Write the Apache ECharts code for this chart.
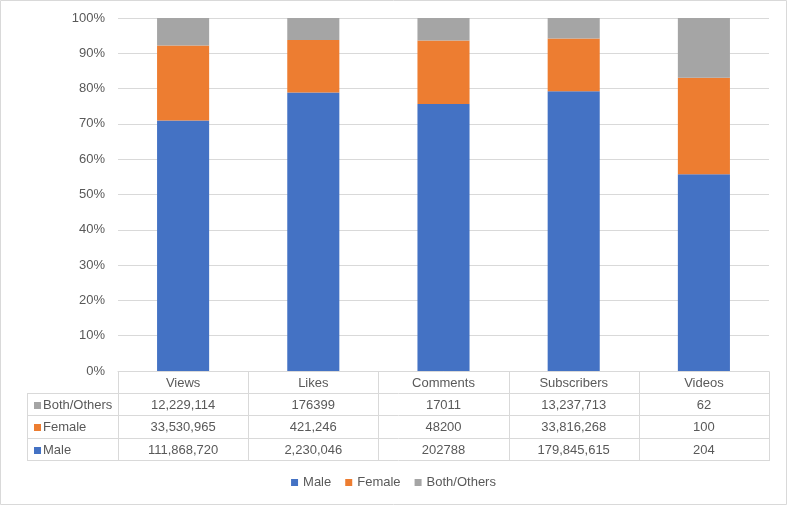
<!DOCTYPE html>
<html>
<head>
<meta charset="utf-8">
<script src="https://cdn.jsdelivr.net/npm/echarts@6/dist/echarts.min.js"></script>
<style>
html,body{margin:0;padding:0;background:#fff;}
#c{width:787px;height:505px;}
</style>
</head>
<body>
<div id="c"></div>
<script>
const categories = ['Views', 'Likes', 'Comments', 'Subscribers', 'Videos'];
const seriesNames = ['Male', 'Female', 'Both/Others'];
const maleValues = ['111,868,720', '2,230,046', '202788', '179,845,615', '204'];
const femaleValues = ['33,530,965', '421,246', '48200', '33,816,268', '100'];
const otherValues = ['12,229,114', '176399', '17011', '13,237,713', '62'];
const yTicks = [0, 10, 20, 30, 40, 50, 60, 70, 80, 90, 100];
const colors = ['#4472C4', '#ED7D31', '#A5A5A5'];

const raw = [maleValues, femaleValues, otherValues];
const num = s => Number(String(s).replace(/,/g, ''));
const totals = categories.map((_, i) => raw.reduce((a, arr) => a + num(arr[i]), 0));
const pct = raw.map(arr => arr.map((v, i) => num(v) / totals[i] * 100));

const FONT = 'Liberation Sans';
const TXT = '#595959';
const LINE = '#d9d9d9';
const GRID = {left: 118, right: 18, top: 18, bottom: 134};

const chart = echarts.init(document.getElementById('c'));
chart.setOption({
  animation: false,
  textStyle: {fontFamily: FONT},
  grid: GRID,
  legend: {
    data: seriesNames,
    bottom: 11,
    left: 'center',
    icon: 'rect',
    itemWidth: 7,
    itemHeight: 7,
    itemGap: 14,
    textStyle: {color: TXT, fontSize: 13, fontFamily: FONT}
  },
  xAxis: {
    type: 'category',
    data: categories,
    axisLine: {lineStyle: {color: LINE}},
    axisTick: {show: false},
    axisLabel: {color: TXT, fontSize: 13, margin: 6, fontFamily: FONT}
  },
  yAxis: {
    type: 'value',
    min: yTicks[0],
    max: yTicks[yTicks.length - 1],
    interval: 10,
    axisLabel: {formatter: '{value}%', color: TXT, fontSize: 13, margin: 13, fontFamily: FONT},
    splitLine: {lineStyle: {color: LINE}},
    axisLine: {show: false},
    axisTick: {show: false}
  },
  series: seriesNames.map((name, k) => ({
    name,
    type: 'bar',
    stack: 'total',
    barWidth: '40%',
    itemStyle: {color: colors[k]},
    data: pct[k]
  }))
});

// data table below the plot
const yBottom = chart.convertToPixel({yAxisIndex: 0}, 0);
const c0 = chart.convertToPixel({xAxisIndex: 0}, categories[0]);
const c1 = chart.convertToPixel({xAxisIndex: 0}, categories[1]);
const band = c1 - c0;
const xLeft = c0 - band / 2;
const xRight = xLeft + band * categories.length;
const labelLeft = 27;
const headerH = 22;
const rowH = 22.34;
const rowsTop = Math.round(yBottom) + headerH;
const order = [2, 1, 0]; // Both/Others, Female, Male
const els = [];
const line = (x1, y1, x2, y2) => els.push({type: 'line', shape: {x1, y1, x2, y2}, style: {stroke: LINE, lineWidth: 1}, silent: true});
const rowY = r => Math.round(rowsTop + rowH * r) + 0.5;
const ytop = Math.round(yBottom) + 0.5;
// vertical lines
for (let i = 0; i <= categories.length; i++) {
  const x = Math.round(xLeft + band * i) + 0.5;
  line(x, ytop, x, rowY(3));
}
line(labelLeft + 0.5, rowY(0), labelLeft + 0.5, rowY(3));
// horizontal lines
for (let r = 0; r <= 3; r++) {
  line(labelLeft, rowY(r), Math.round(xRight) + 1, rowY(r));
}
order.forEach((k, r) => {
  const cy = (rowY(r) + rowY(r + 1)) / 2 + 0.5;
  els.push({type: 'rect', shape: {x: labelLeft + 7, y: Math.round(cy - 3.5), width: 7, height: 7}, style: {fill: colors[k]}, silent: true});
  els.push({type: 'text', x: labelLeft + 16, y: cy, style: {text: seriesNames[k], fill: TXT, font: '13px "' + FONT + '"', verticalAlign: 'middle', align: 'left'}, silent: true});
  categories.forEach((cat, i) => {
    els.push({type: 'text', x: xLeft + band * i + band / 2, y: cy, style: {text: raw[k][i], fill: TXT, font: '13px "' + FONT + '"', verticalAlign: 'middle', align: 'center'}, silent: true});
  });
});
// outer border
els.push({type: 'rect', shape: {x: 0.5, y: 0.5, width: 786, height: 504}, style: {fill: 'none', stroke: LINE, lineWidth: 1}, silent: true});
chart.setOption({graphic: {elements: els}});
</script>
</body>
</html>
